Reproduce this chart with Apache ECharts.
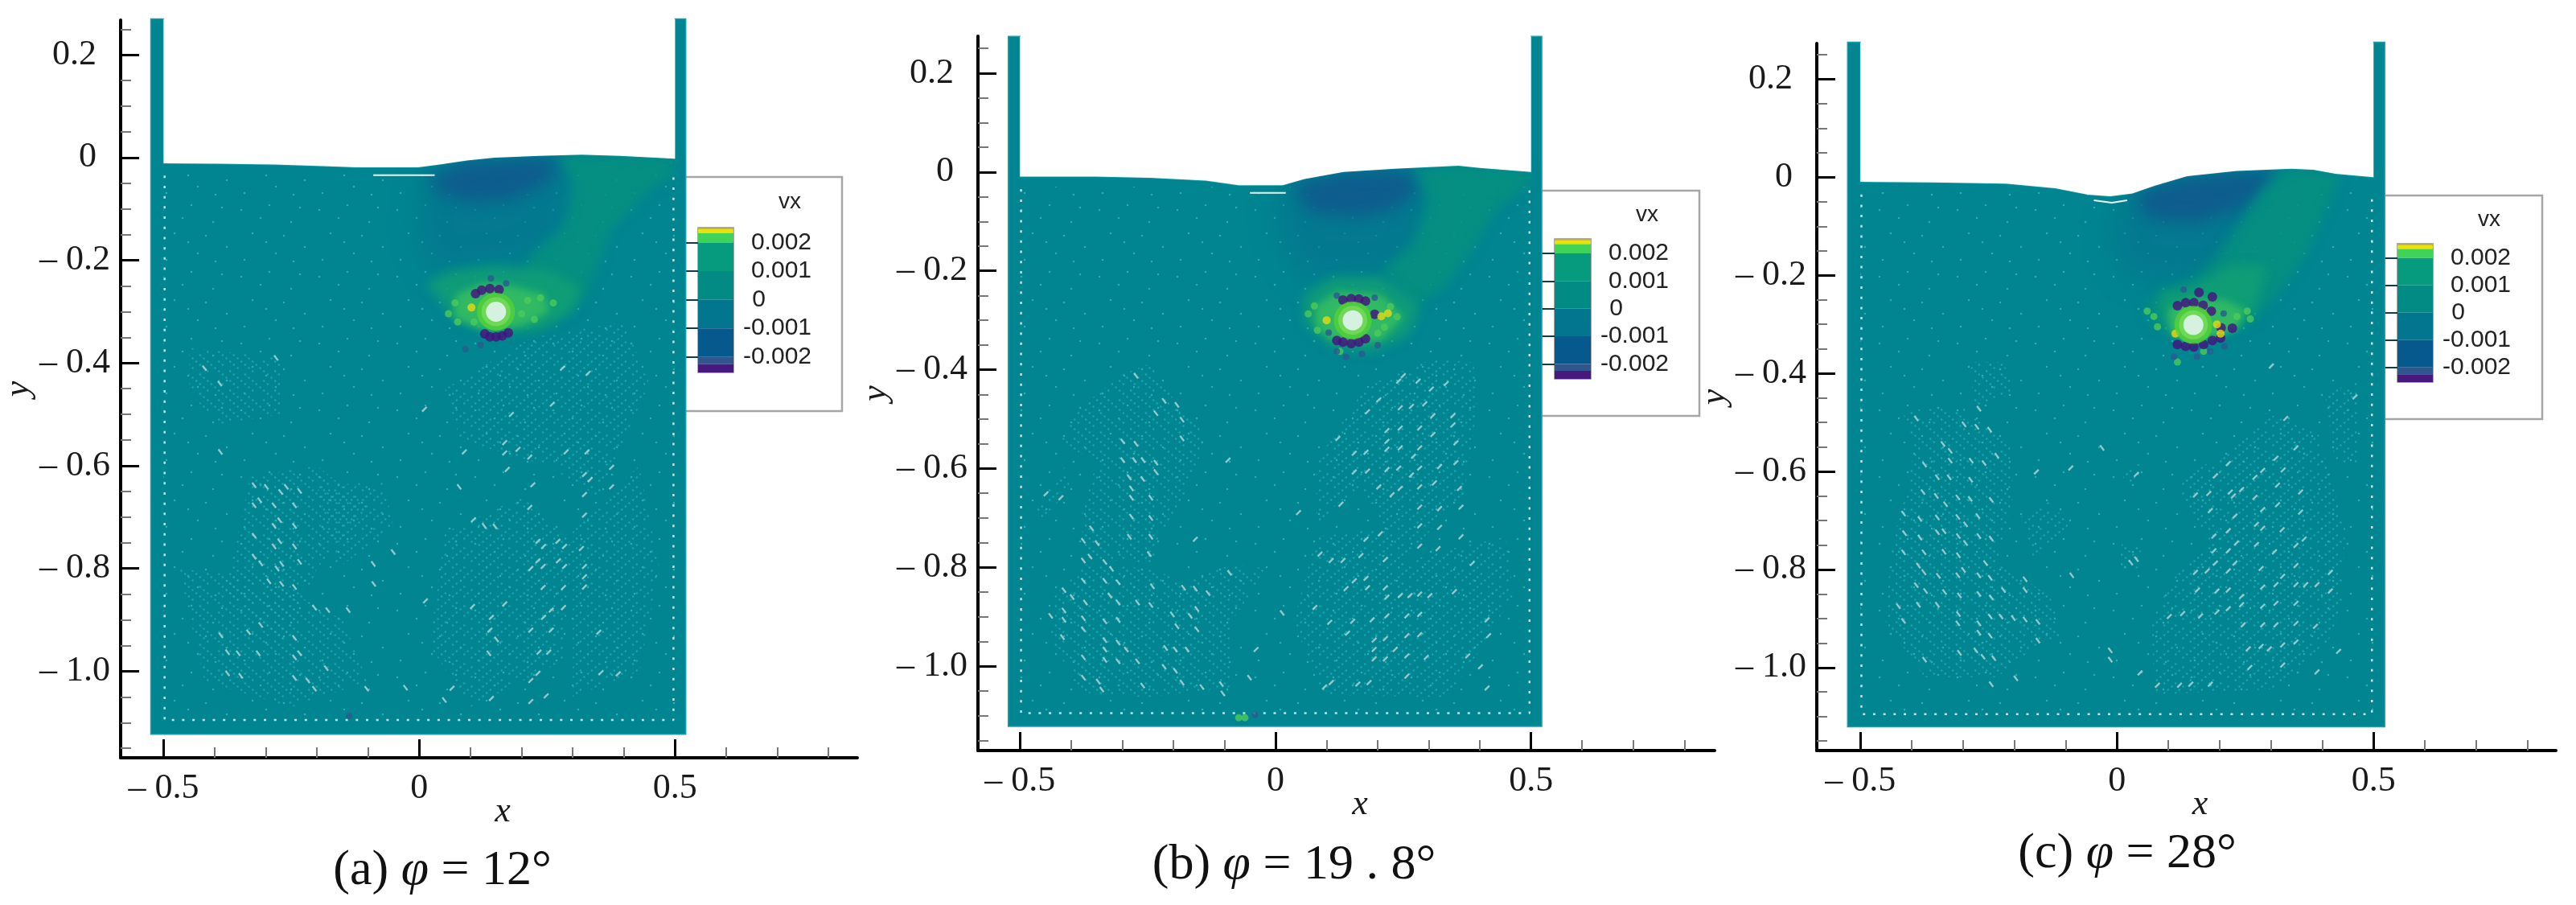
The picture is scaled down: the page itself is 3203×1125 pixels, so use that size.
<!DOCTYPE html>
<html>
<head>
<meta charset="utf-8">
<title>vx field</title>
<script src="https://cdn.jsdelivr.net/npm/echarts@6/dist/echarts.min.js"></script>
<style>
  html, body { margin: 0; padding: 0; background: #fff; }
  #main { width: 3203px; height: 1125px; }
</style>
</head>
<body>
<div id="main"></div>
<script>
// axis ticks
let xMajor = [-0.5, 0, 0.5];
let xMinor = [-0.4, -0.3, -0.2, -0.1, 0.1, 0.2, 0.3, 0.4, 0.6, 0.7, 0.8];
let yMajor = [-1, -0.8, -0.6, -0.4, -0.2, 0, 0.2];
let yMinor = [-1.15, -1.1, -1.05, -0.95, -0.9, -0.85, -0.75, -0.7, -0.65, -0.55, -0.5, -0.45, -0.35, -0.3, -0.25, -0.15, -0.1, -0.05, 0.05, 0.1, 0.15, 0.25];

// colour bar
let barTicks = [-0.002, -0.001, 0, 0.001, 0.002];
let barEdges = [0.00252, 0.00245, 0.00233, 0.002, 0.001, 0, -0.001, -0.002, -0.00225, -0.00254];
let barColors = ['#c8b90e', '#e8e10a', '#3fd35a', '#069b7f', '#028a85', '#03768f', '#05598d', '#31558f', '#47187e'];

// free surface, left wall to right wall
let surfaceA = [[-0.5, -0.011], [-0.389, -0.012], [-0.282, -0.0135], [-0.175, -0.017], [-0.121, -0.019], [-0.003, -0.019], [0.04, -0.0135], [0.093, -0.0056], [0.147, 0], [0.233, 0.0034], [0.318, 0.0056], [0.393, 0.0034], [0.5, -0.002]];
let surfaceB = [[-0.5, -0.0093], [-0.351, -0.0093], [-0.244, -0.0117], [-0.136, -0.0175], [-0.072, -0.0269], [0.014, -0.0269], [0.057, -0.014], [0.133, 0], [0.24, 0.007], [0.358, 0.0129], [0.4, 0.0082], [0.5, 0]];
let surfaceC = [[-0.5, -0.0094], [-0.355, -0.0106], [-0.216, -0.0129], [-0.12, -0.0224], [-0.056, -0.0353], [-0.013, -0.0388], [0.03, -0.0329], [0.073, -0.0176], [0.137, 0.0024], [0.233, 0.0129], [0.34, 0.0176], [0.383, 0.0153], [0.426, 0.0071], [0.5, 0]];

// white sliver under the trough
let sliverA = [[-0.09, -0.034], [0.03, -0.034]];
let sliverB = [[-0.05, -0.042], [0.02, -0.042]];
let sliverC = [[-0.045, -0.047], [-0.01, -0.052], [0.02, -0.047]];

// contour zones
let midA = [[0.029, -0.013], [0.265, 0.003], [0.302, -0.064], [0.286, -0.143], [0.211, -0.199], [0.029, -0.221], [-0.003, -0.143], [0.008, -0.064]];
let darkA = [[0.083, -0.008], [0.254, 0.002], [0.275, -0.019], [0.243, -0.053], [0.179, -0.081], [0.104, -0.087], [0.04, -0.07], [0.018, -0.042]];
let greenA = [[0.275, 0.003], [0.393, 0.003], [0.498, -0.003], [0.498, -0.03], [0.447, -0.064], [0.372, -0.143], [0.345, -0.221], [0.318, -0.278], [0.254, -0.328], [0.179, -0.339], [0.211, -0.199], [0.286, -0.131], [0.302, -0.053]];
let fanA = [[0.013, -0.244], [0.061, -0.221], [0.147, -0.21], [0.254, -0.221], [0.318, -0.255], [0.297, -0.3], [0.233, -0.334], [0.147, -0.343], [0.072, -0.317]];
let coreA = [[0.072, -0.266], [0.125, -0.244], [0.179, -0.249], [0.243, -0.266], [0.254, -0.3], [0.2, -0.328], [0.125, -0.336], [0.066, -0.311]];

let midB = [[0.019, -0.028], [0.132, 0], [0.277, 0.006], [0.304, -0.061], [0.282, -0.143], [0.25, -0.201], [0.057, -0.213], [0.014, -0.143], [0.003, -0.072]];
let darkB = [[0.035, -0.023], [0.132, 0], [0.25, 0.006], [0.283, -0.032], [0.24, -0.072], [0.164, -0.09], [0.078, -0.084], [0.046, -0.055]];
let greenB = [[0.277, 0.006], [0.358, 0.013], [0.4, 0.008], [0.497, 0], [0.497, -0.026], [0.433, -0.072], [0.379, -0.166], [0.325, -0.236], [0.272, -0.271], [0.207, -0.201], [0.272, -0.143], [0.299, -0.061]];
let fanB = [[0.057, -0.248], [0.111, -0.213], [0.207, -0.213], [0.282, -0.271], [0.261, -0.329], [0.186, -0.364], [0.111, -0.353], [0.057, -0.306]];
let coreB = [[0.078, -0.271], [0.121, -0.242], [0.207, -0.248], [0.25, -0.294], [0.207, -0.341], [0.111, -0.341], [0.078, -0.312]];

let midC = [[0.014, -0.036], [0.137, 0.002], [0.319, 0.016], [0.329, -0.027], [0.276, -0.109], [0.201, -0.215], [0.03, -0.204], [-0.013, -0.133], [-0.002, -0.074]];
let darkC = [[0.041, -0.029], [0.137, 0.002], [0.287, 0.014], [0.308, -0.006], [0.244, -0.062], [0.158, -0.092], [0.073, -0.086], [0.041, -0.062]];
let greenC = [[0.325, 0.014], [0.384, 0.014], [0.436, 0.003], [0.371, -0.152], [0.312, -0.24], [0.273, -0.284], [0.234, -0.311], [0.15, -0.33], [0.07, -0.3], [0.053, -0.273], [0.085, -0.229], [0.15, -0.207], [0.202, -0.152], [0.286, -0.021]];
let fanC = [[0.085, -0.24], [0.15, -0.225], [0.22, -0.18], [0.29, -0.18], [0.27, -0.27], [0.23, -0.3], [0.15, -0.325], [0.09, -0.3]];
let coreC = [[0.1, -0.27], [0.15, -0.25], [0.21, -0.25], [0.25, -0.27], [0.235, -0.31], [0.15, -0.34], [0.105, -0.32]];

// loosely packed patches
let looseBackA = [
  [[-0.45, -0.37], [-0.27, -0.39], [-0.27, -0.5], [-0.4, -0.52], [-0.45, -0.45]],
  [[-0.33, -0.62], [-0.2, -0.6], [-0.1, -0.68], [-0.2, -0.8], [-0.26, -0.95], [-0.38, -0.85]],
  [[-0.47, -0.8], [-0.3, -0.82], [-0.15, -0.9], [-0.1, -1.02], [-0.25, -1.07], [-0.42, -1.02]]
];
let looseFwdA = [
  [[-0.2, -0.64], [-0.07, -0.63], [-0.05, -0.72], [-0.16, -0.8]],
  [[0.22, -0.35], [0.4, -0.32], [0.45, -0.44], [0.35, -0.66], [0.25, -0.6], [0.08, -0.55], [0.05, -0.45]],
  [[0.05, -0.73], [0.2, -0.66], [0.3, -0.75], [0.28, -0.98], [0.1, -1.07], [0.02, -0.95]],
  [[0.3, -0.72], [0.43, -0.6], [0.47, -0.8], [0.43, -1], [0.3, -1.05]]
];
let looseBackB = [
  [[-0.401, -0.493], [-0.305, -0.412], [-0.241, -0.385], [-0.19, -0.477], [-0.132, -0.531], [-0.177, -0.651], [-0.215, -0.716], [-0.241, -0.792], [-0.369, -0.781], [-0.382, -0.705], [-0.35, -0.586], [-0.421, -0.548]],
  [[-0.433, -0.857], [-0.369, -0.792], [-0.241, -0.803], [-0.177, -0.83], [-0.08, -0.792], [-0.016, -0.803], [-0.087, -0.911], [-0.087, -1.042], [-0.254, -1.063], [-0.382, -1.053], [-0.44, -0.944]]
];
let looseFwdB = [
  [[0.177, -0.433], [0.305, -0.379], [0.388, -0.385], [0.395, -0.477], [0.369, -0.651], [0.273, -0.759], [0.241, -0.803], [0.209, -0.721], [0.17, -0.64], [0.119, -0.672], [0.08, -0.721], [0.08, -0.586]],
  [[0.08, -0.738], [0.209, -0.721], [0.241, -0.792], [0.356, -0.759], [0.452, -0.738], [0.465, -0.857], [0.401, -0.966], [0.337, -1.063], [0.093, -1.058], [0.035, -0.911]],
  [[-0.472, -0.683], [-0.414, -0.596], [-0.401, -0.64], [-0.459, -0.705]]
];
let looseBackC = [
  [[-0.285, -0.377], [-0.221, -0.377], [-0.2, -0.44], [-0.28, -0.47]],
  [[-0.419, -0.475], [-0.298, -0.47], [-0.208, -0.546], [-0.202, -0.65], [-0.234, -0.787], [-0.131, -0.853], [-0.106, -0.935], [-0.157, -0.957], [-0.234, -1.02], [-0.375, -1.02], [-0.451, -0.907], [-0.439, -0.743], [-0.419, -0.678], [-0.394, -0.552]],
  [[0.01, -0.743], [0.048, -0.754], [0.041, -0.798], [0.003, -0.798]]
];
let looseFwdC = [
  [[-0.189, -0.694], [-0.131, -0.661], [-0.093, -0.71], [-0.163, -0.776]],
  [[0.112, -0.623], [0.221, -0.557], [0.291, -0.481], [0.393, -0.524], [0.445, -0.716], [0.438, -0.88], [0.406, -0.962], [0.317, -1.044], [0.074, -1.055], [0.067, -0.907], [0.105, -0.825], [0.176, -0.743]],
  [[0.01, -0.601], [0.054, -0.579], [0.041, -0.617], [0.016, -0.634]],
  [[0.406, -0.442], [0.47, -0.415], [0.47, -0.59], [0.425, -0.579]]
];

// white streaks
let streakBackA = [[-0.389, -0.573], [-0.323, -0.638], [-0.299, -0.641], [-0.271, -0.651], [-0.26, -0.641], [-0.234, -0.649], [-0.312, -0.667], [-0.323, -0.677], [-0.284, -0.677], [-0.244, -0.677], [-0.273, -0.706], [-0.284, -0.717], [-0.244, -0.717], [-0.323, -0.736], [-0.273, -0.747], [-0.284, -0.757], [-0.244, -0.757], [-0.323, -0.777], [-0.31, -0.79], [-0.278, -0.8], [-0.269, -0.791], [-0.234, -0.787], [-0.294, -0.825], [-0.269, -0.83], [-0.244, -0.836], [-0.205, -0.876], [-0.179, -0.881], [-0.139, -0.881], [-0.31, -0.91], [-0.334, -0.924], [-0.388, -0.93], [-0.244, -0.935], [-0.375, -0.963], [-0.354, -0.965], [-0.315, -0.965], [-0.244, -0.973], [-0.234, -0.965], [-0.375, -1.004], [-0.349, -1.009], [-0.244, -1.013], [-0.218, -1.018], [-0.205, -1.034], [-0.182, -0.994], [-0.09, -0.791], [-0.089, -0.83], [-0.051, -0.768], [-0.027, -1.032], [-0.103, -1.034], [0.127, -0.717], [0.148, -0.718], [0.151, -0.938], [0.136, -0.965], [0.078, -0.641], [0.049, -1.056], [-0.42, -0.41], [-0.39, -0.44], [-0.28, -0.39]];
let streakFwdA = [[0.088, -0.573], [0.167, -0.555], [0.193, -0.568], [0.167, -0.575], [0.216, -0.583], [0.172, -0.607], [0.222, -0.637], [0.216, -0.681], [0.287, -0.573], [0.328, -0.573], [0.323, -0.617], [0.376, -0.603], [0.334, -0.627], [0.376, -0.641], [0.323, -0.656], [0.323, -0.696], [0.232, -0.747], [0.243, -0.757], [0.271, -0.747], [0.284, -0.757], [0.317, -0.761], [0.232, -0.785], [0.218, -0.8], [0.242, -0.796], [0.272, -0.785], [0.284, -0.796], [0.323, -0.796], [0.323, -0.816], [0.242, -0.837], [0.282, -0.837], [0.323, -0.836], [0.282, -0.876], [0.258, -0.881], [0.243, -0.895], [0.167, -0.869], [0.104, -0.874], [0.141, -0.895], [0.138, -0.92], [0.218, -0.92], [0.258, -0.92], [0.351, -0.924], [0.234, -0.963], [0.253, -0.963], [0.232, -1.004], [0.218, -1.018], [0.389, -1.005], [0.355, -1.003], [0.248, -1.048], [0.218, -1.059], [0.141, -1.053], [0.064, -1.033], [0.106, -0.705], [0.012, -0.863], [0.33, -0.42], [0.28, -0.41], [0.26, -0.48], [0.18, -0.5], [0.01, -0.49]];
let streakBackB = [[-0.218, -0.463], [-0.193, -0.471], [-0.234, -0.488], [-0.183, -0.501], [-0.273, -0.412], [-0.183, -0.539], [-0.299, -0.545], [-0.273, -0.55], [-0.299, -0.583], [-0.276, -0.583], [-0.259, -0.583], [-0.234, -0.588], [-0.234, -0.607], [-0.286, -0.618], [-0.26, -0.621], [-0.282, -0.64], [-0.244, -0.659], [-0.282, -0.659], [-0.244, -0.7], [-0.282, -0.697], [-0.36, -0.721], [-0.286, -0.738], [-0.244, -0.738], [-0.376, -0.746], [-0.349, -0.751], [-0.247, -0.773], [-0.363, -0.778], [-0.376, -0.786], [-0.334, -0.789], [-0.321, -0.803], [-0.376, -0.827], [-0.334, -0.827], [-0.308, -0.83], [-0.241, -0.838], [-0.18, -0.841], [-0.157, -0.843], [-0.132, -0.852], [-0.414, -0.846], [-0.398, -0.86], [-0.372, -0.871], [-0.324, -0.857], [-0.308, -0.871], [-0.27, -0.871], [-0.244, -0.876], [-0.414, -0.887], [-0.44, -0.898], [-0.414, -0.906], [-0.376, -0.903], [-0.334, -0.909], [-0.308, -0.906], [-0.202, -0.895], [-0.167, -0.898], [-0.154, -0.884], [-0.193, -0.919], [-0.154, -0.925], [-0.376, -0.925], [-0.417, -0.941], [-0.334, -0.947], [-0.308, -0.952], [-0.292, -0.966], [-0.334, -0.966], [-0.215, -0.963], [-0.196, -0.966], [-0.173, -0.966], [-0.376, -0.982], [-0.334, -0.987], [-0.308, -0.99], [-0.27, -0.99], [-0.218, -1.001], [-0.196, -1.009], [-0.376, -1.023], [-0.347, -1.031], [-0.183, -1.033], [-0.144, -1.042], [-0.106, -1.036], [-0.26, -1.039], [-0.34, -1.047], [-0.103, -1.055], [-0.051, -1.023], [0.013, -0.892], [-0.09, -0.811]];
let streakFwdB = [[0.25, -0.412], [0.241, -0.423], [0.279, -0.423], [0.334, -0.428], [0.305, -0.439], [0.202, -0.461], [0.244, -0.477], [0.266, -0.474], [0.292, -0.469], [0.18, -0.485], [0.308, -0.493], [0.347, -0.493], [0.244, -0.518], [0.282, -0.518], [0.218, -0.523], [0.347, -0.512], [0.308, -0.531], [0.218, -0.545], [0.122, -0.539], [0.177, -0.567], [0.154, -0.569], [0.244, -0.558], [0.218, -0.561], [0.282, -0.558], [0.27, -0.575], [0.353, -0.548], [0.321, -0.596], [0.218, -0.602], [0.241, -0.599], [0.18, -0.605], [0.282, -0.599], [0.154, -0.607], [0.266, -0.613], [0.353, -0.588], [0.311, -0.629], [0.36, -0.64], [0.244, -0.64], [0.282, -0.637], [0.202, -0.637], [0.228, -0.653], [0.128, -0.672], [0.282, -0.678], [0.321, -0.681], [0.363, -0.678], [0.321, -0.719], [0.282, -0.716], [0.177, -0.743], [0.205, -0.732], [0.282, -0.757], [0.318, -0.762], [0.363, -0.738], [0.087, -0.773], [0.109, -0.786], [0.167, -0.776], [0.215, -0.784], [0.132, -0.786], [0.385, -0.792], [0.177, -0.822], [0.154, -0.827], [0.215, -0.841], [0.138, -0.843], [0.18, -0.841], [0.244, -0.857], [0.263, -0.857], [0.302, -0.857], [0.282, -0.854], [0.35, -0.849], [0.218, -0.86], [0.077, -0.881], [0.106, -0.911], [0.151, -0.909], [0.189, -0.906], [0.218, -0.898], [0.257, -0.898], [0.282, -0.895], [0.257, -0.938], [0.215, -0.944], [0.282, -0.936], [0.193, -0.947], [0.414, -0.906], [0.417, -0.938], [0.141, -0.933], [0.234, -0.966], [0.193, -0.966], [0.257, -0.979], [0.295, -0.982], [0.193, -0.985], [0.215, -0.985], [0.376, -0.979], [0.096, -1.042], [0.161, -1.036], [0.183, -1.033], [0.257, -1.02], [0.414, -1.044], [0.401, -1.001], [-0.038, -0.966], [0.109, -1.033], [-0.42, -0.659], [-0.449, -0.651], [-0.157, -0.743], [0.045, -0.689], [-0.093, -0.583]];
let streakBackC = [[-0.391, -0.492], [-0.269, -0.472], [-0.298, -0.504], [-0.273, -0.509], [-0.248, -0.515], [-0.339, -0.544], [-0.325, -0.558], [-0.234, -0.568], [-0.325, -0.578], [-0.284, -0.578], [-0.259, -0.583], [-0.375, -0.586], [-0.35, -0.612], [-0.327, -0.612], [-0.285, -0.617], [-0.378, -0.642], [-0.352, -0.65], [-0.334, -0.667], [-0.31, -0.653], [-0.286, -0.656], [-0.245, -0.658], [-0.416, -0.686], [-0.384, -0.697], [-0.35, -0.694], [-0.31, -0.693], [-0.271, -0.691], [-0.295, -0.708], [-0.414, -0.726], [-0.384, -0.735], [-0.35, -0.724], [-0.337, -0.722], [-0.309, -0.732], [-0.269, -0.732], [-0.245, -0.737], [-0.295, -0.746], [-0.416, -0.765], [-0.376, -0.765], [-0.337, -0.764], [-0.309, -0.771], [-0.256, -0.787], [-0.387, -0.792], [-0.376, -0.806], [-0.348, -0.813], [-0.31, -0.812], [-0.269, -0.812], [-0.247, -0.817], [-0.299, -0.801], [-0.391, -0.832], [-0.373, -0.844], [-0.336, -0.846], [-0.307, -0.853], [-0.269, -0.85], [-0.245, -0.857], [-0.221, -0.842], [-0.179, -0.842], [-0.179, -0.82], [-0.088, -0.812], [-0.387, -0.872], [-0.35, -0.872], [-0.309, -0.891], [-0.247, -0.896], [-0.226, -0.896], [-0.202, -0.899], [-0.179, -0.902], [-0.154, -0.907], [-0.31, -0.91], [-0.269, -0.91], [-0.416, -0.905], [-0.269, -0.929], [-0.247, -0.935], [-0.154, -0.945], [-0.275, -0.965], [-0.261, -0.978], [-0.24, -0.981], [-0.375, -0.984], [-0.197, -1.022], [-0.245, -1.034], [-0.013, -0.965], [-0.013, -0.984], [-0.029, -0.552], [0.027, -0.786], [0.038, -0.779], [-0.307, -0.97], [-0.426, -0.875]];
let streakFwdC = [[0.301, -0.385], [0.464, -0.448], [0.349, -0.552], [0.31, -0.573], [0.217, -0.584], [0.284, -0.598], [0.324, -0.597], [0.269, -0.612], [0.192, -0.609], [0.313, -0.628], [0.243, -0.637], [0.221, -0.642], [0.358, -0.642], [0.179, -0.645], [0.153, -0.648], [0.227, -0.65], [0.269, -0.653], [0.182, -0.68], [0.284, -0.678], [0.313, -0.668], [0.23, -0.691], [0.358, -0.683], [0.272, -0.708], [0.322, -0.719], [0.217, -0.721], [0.189, -0.732], [0.284, -0.716], [0.233, -0.746], [0.272, -0.749], [0.365, -0.738], [0.217, -0.762], [0.189, -0.762], [0.349, -0.751], [0.307, -0.764], [0.281, -0.798], [0.23, -0.787], [0.192, -0.787], [0.217, -0.803], [0.176, -0.803], [0.153, -0.806], [0.349, -0.792], [0.323, -0.814], [0.416, -0.806], [0.157, -0.842], [0.195, -0.844], [0.217, -0.842], [0.243, -0.855], [0.284, -0.836], [0.31, -0.831], [0.349, -0.831], [0.368, -0.831], [0.39, -0.831], [0.416, -0.844], [0.102, -0.896], [0.128, -0.89], [0.163, -0.895], [0.195, -0.887], [0.217, -0.88], [0.243, -0.872], [0.284, -0.875], [0.31, -0.869], [0.349, -0.869], [0.246, -0.913], [0.284, -0.913], [0.31, -0.913], [0.349, -0.91], [0.387, -0.916], [0.256, -0.962], [0.281, -0.957], [0.297, -0.962], [0.323, -0.954], [0.349, -0.948], [0.432, -0.967], [0.259, -1], [0.323, -0.995], [0.39, -1.009], [0.079, -1.036], [0.122, -1.036], [0.144, -1.034], [0.182, -1.034], [0.045, -1.011], [0.038, -0.606], [-0.09, -0.593], [-0.157, -0.601], [0.329, -0.492]];

// particles around the cylinder
let purpleA = [[0.11, -0.265], [0.122, -0.258], [0.138, -0.255], [0.156, -0.257], [0.128, -0.343], [0.138, -0.349], [0.15, -0.349], [0.162, -0.347], [0.174, -0.341]];
let yellowA = [[0.102, -0.292]];
let blueA = [[0.09, -0.373], [0.12, -0.365], [0.17, -0.245], [0.14, -0.235], [-0.137, -1.087]];
let limeA = [[0.057, -0.304], [0.075, -0.32], [0.107, -0.32], [0.212, -0.278], [0.237, -0.273], [0.262, -0.283], [0.07, -0.283], [0.225, -0.315], [0.2, -0.304]];
let purpleB = [[0.132, -0.259], [0.148, -0.256], [0.163, -0.257], [0.176, -0.261], [0.12, -0.341], [0.132, -0.344], [0.148, -0.347], [0.163, -0.344], [0.176, -0.337], [0.194, -0.288]];
let yellowB = [[0.207, -0.292], [0.22, -0.286], [0.1, -0.3]];
let blueB = [[0.194, -0.254], [0.12, -0.363], [0.138, -0.374], [0.169, -0.368], [0.104, -0.325], [0.2, -0.35], [0.12, -0.25], [-0.04, -1.098]];
let limeB = [[0.076, -0.271], [0.064, -0.287], [0.213, -0.314], [0.238, -0.293], [0.225, -0.272], [0.126, -0.363], [0.082, -0.32], [0.2, -0.326], [-0.072, -1.104], [-0.06, -1.104]];
let purpleC = [[0.118, -0.262], [0.134, -0.256], [0.15, -0.256], [0.168, -0.261], [0.184, -0.273], [0.186, -0.244], [0.16, -0.235], [0.118, -0.341], [0.134, -0.345], [0.15, -0.346], [0.169, -0.341], [0.186, -0.333], [0.203, -0.307], [0.225, -0.308], [0.202, -0.328]];
let yellowC = [[0.195, -0.3], [0.202, -0.319], [0.114, -0.319]];
let blueC = [[0.111, -0.366], [0.156, -0.366], [0.182, -0.355], [0.208, -0.278], [0.13, -0.229], [0.21, -0.345]];
let limeC = [[0.072, -0.284], [0.059, -0.273], [0.234, -0.284], [0.254, -0.273], [0.26, -0.289], [0.079, -0.305], [0.169, -0.355], [0.118, -0.377]];

let ringA = [[0.15, -0.3]];
let ringB = [[0.151, -0.3]];
let ringC = [[0.149, -0.301]];

let captions = ['(a) {i|φ} = 12°', '(b) {i|φ} = 19 . 8°', '(c) {i|φ} = 28°'];

const serif = '"Liberation Serif", serif';
const sans = '"Liberation Sans", Arial, sans-serif';
const bodyColor = '#008591';

// dot textures for the loose patches, some dots left out so the rows look uneven
function latticeTile(flip) {
  let c = document.createElement('canvas');
  c.width = 56;
  c.height = 48;
  let ctx = c.getContext('2d');
  ctx.fillStyle = 'rgba(30,172,184,0.85)';
  for (let i = 0; i < 4; i++) {
    for (let j = 0; j < 4; j++) {
      [[1.5, 1.5], [6.2, 5.5], [10.8, 9.5]].forEach(function (d, k) {
        if ((i * 5 + j * 3 + k) % 6 === 0) return;
        let x = i * 14 + (flip ? 14 - d[0] : d[0]);
        ctx.beginPath();
        ctx.arc(x, j * 12 + d[1], 1.25, 0, Math.PI * 2);
        ctx.fill();
      });
    }
  }
  return c;
}
function sparseTile() {
  let c = document.createElement('canvas');
  c.width = 97;
  c.height = 83;
  let ctx = c.getContext('2d');
  ctx.fillStyle = 'rgba(50,185,195,0.8)';
  [[9, 12], [44, 6], [71, 27], [23, 41], [88, 58], [52, 66], [13, 74], [62, 44], [33, 22], [82, 9], [40, 52], [74, 76]].forEach(function (d) {
    ctx.beginPath();
    ctx.arc(d[0], d[1], 1.3, 0, Math.PI * 2);
    ctx.fill();
  });
  return c;
}
const tileBack = latticeTile(false);
const tileFwd = latticeTile(true);
const tileSparse = sparseTile();

const panels = [
  { left: 149, top: 25, width: 917, height: 917, xMin: -0.584, xMax: 0.8565, yMin: -1.1685, yMax: 0.2677,
    wall: [-0.525, 0.521, 0.27, -1.1226], surface: surfaceA, sliver: sliverA,
    zones: [midA, darkA, greenA, fanA, coreA], back: looseBackA, fwd: looseFwdA,
    streakBack: streakBackA, streakFwd: streakFwdA, purple: purpleA, yellow: yellowA, blue: blueA, lime: limeA, ring: ringA,
    box: [848, 220, 199, 291], bar: [868, 283, 44, 180], vx: [982, 251], cap: [550, 1083] },
  { left: 1216, top: 45, width: 916, height: 888, xMin: -0.5823, xMax: 0.8593, yMin: -1.1705, yMax: 0.2748,
    wall: [-0.523, 0.521, 0.2745, -1.1215], surface: surfaceB, sliver: sliverB,
    zones: [midB, darkB, greenB, fanB, coreB], back: looseBackB, fwd: looseFwdB,
    streakBack: streakBackB, streakFwd: streakFwdB, purple: purpleB, yellow: yellowB, blue: blueB, lime: limeB, ring: ringB,
    box: [1912, 237, 201, 280], bar: [1933, 297, 45, 174], vx: [2048, 267], cap: [1609, 1076] },
  { left: 2259, top: 54, width: 919, height: 879, xMin: -0.585, xMax: 0.8556, yMin: -1.1694, yMax: 0.273,
    wall: [-0.525, 0.522, 0.2753, -1.121], surface: surfaceC, sliver: sliverC,
    zones: [midC, darkC, greenC, fanC, coreC], back: looseBackC, fwd: looseFwdC,
    streakBack: streakBackC, streakFwd: streakFwdC, purple: purpleC, yellow: yellowC, blue: blueC, lime: limeC, ring: ringC,
    box: [2960, 243, 201, 278], bar: [2981, 303, 44, 172], vx: [3095, 273], cap: [2645, 1062] }
];
const zoneColors = ['#06728f', '#0f5a8d', '#06907f', '#12a074', '#35bd62'];
const zoneOpacity = [0.6, 0.9, 0.85, 0.85, 0.9];
const zoneBlur = [34, 20, 14, 14, 10];

function polygonSeries(axisIdx, list, style, z) {
  return {
    type: 'custom',
    xAxisIndex: axisIdx,
    yAxisIndex: axisIdx,
    clip: false,
    silent: true,
    z: z,
    data: list.map(function (p, i) { return [i, 0]; }),
    renderItem: function (params, api) {
      let pts = list[params.dataIndex].map(function (p) { return api.coord(p); });
      return { type: 'polygon', shape: { points: pts }, style: style };
    }
  };
}

// only the shadow lands on the canvas, which gives a soft blurred zone
const FAR = 6000;
function softZoneSeries(axisIdx, zone, color, opacity, blur, z) {
  return {
    type: 'custom',
    xAxisIndex: axisIdx,
    yAxisIndex: axisIdx,
    clip: false,
    silent: true,
    z: z,
    data: [[0, 0]],
    renderItem: function (params, api) {
      let pts = zone.map(function (p) {
        let c = api.coord(p);
        return [c[0] - FAR, c[1]];
      });
      return {
        type: 'polygon',
        shape: { points: pts },
        style: { fill: color, opacity: opacity, shadowColor: color, shadowBlur: blur, shadowOffsetX: FAR }
      };
    }
  };
}

function pointSeries(axisIdx, data, symbol, size, color, rotate, z, extra) {
  return Object.assign({
    type: 'scatter',
    xAxisIndex: axisIdx,
    yAxisIndex: axisIdx,
    clip: false,
    silent: true,
    z: z,
    symbol: symbol,
    symbolSize: size,
    symbolRotate: rotate,
    itemStyle: { color: color },
    data: data
  }, extra || {});
}

function yLabel(v) {
  if (v === 0) return '{p|0}';
  if (v < 0) return '– ' + Math.abs(v).toFixed(1);
  return '{p|' + v.toFixed(1) + '}';
}
function xLabel(v) {
  if (v === 0) return '0';
  return v < 0 ? '– ' + Math.abs(v).toFixed(1) : v.toFixed(1);
}

let grids = [], xAxes = [], yAxes = [], series = [], titles = [], graphics = [];

panels.forEach(function (p, i) {
  grids.push({ left: p.left, top: p.top, width: p.width, height: p.height });
  const labelStyle = { fontFamily: serif, fontSize: 44, color: '#1a1a1a' };

  xAxes.push({
    type: 'value', gridIndex: i, position: 'bottom', min: p.xMin, max: p.xMax,
    name: 'x', nameLocation: 'middle', nameGap: 45, nameMoveOverlap: false,
    nameTextStyle: { fontFamily: serif, fontStyle: 'italic', fontSize: 44, color: '#1a1a1a', padding: [0, 0, 0, 34] },
    axisLine: { onZero: false, lineStyle: { color: '#000', width: 4 } },
    axisTick: { inside: true, length: 23, lineStyle: { color: '#000', width: 3 }, customValues: xMajor },
    axisLabel: Object.assign({ customValues: xMajor, formatter: xLabel, margin: 16 }, labelStyle),
    splitLine: { show: false }
  });
  xAxes.push({
    type: 'value', gridIndex: i, position: 'bottom', min: p.xMin, max: p.xMax,
    axisLine: { show: false, onZero: false },
    axisTick: { inside: true, length: 13, lineStyle: { color: '#777', width: 2 }, customValues: xMinor },
    axisLabel: { show: false },
    splitLine: { show: false }
  });
  yAxes.push({
    type: 'value', gridIndex: i, position: 'left', min: p.yMin, max: p.yMax,
    name: 'y', nameLocation: 'middle', nameGap: 105, nameRotate: 90, nameMoveOverlap: false,
    nameTextStyle: { fontFamily: serif, fontStyle: 'italic', fontSize: 44, color: '#1a1a1a' },
    axisLine: { onZero: false, lineStyle: { color: '#000', width: 4 } },
    axisTick: { inside: true, length: 23, lineStyle: { color: '#000', width: 3 }, customValues: yMajor },
    axisLabel: Object.assign({ customValues: yMajor, formatter: yLabel, margin: 13,
      rich: { p: Object.assign({ padding: [0, 17, 0, 0] }, labelStyle) } }, labelStyle),
    splitLine: { show: false }
  });
  yAxes.push({
    type: 'value', gridIndex: i, position: 'left', min: p.yMin, max: p.yMax,
    axisLine: { show: false, onZero: false },
    axisTick: { inside: true, length: 13, lineStyle: { color: '#777', width: 2 }, customValues: yMinor },
    axisLabel: { show: false },
    splitLine: { show: false }
  });

  const a = i * 2;
  const w = p.wall;
  // tank walls and fluid body share one outline
  let outline = [[w[0], w[2]], [-0.5, w[2]]].concat(p.surface, [[0.5, w[2]], [w[1], w[2]], [w[1], w[3]], [w[0], w[3]]]);
  series.push(polygonSeries(a, [outline], { fill: bodyColor, stroke: '#16a0aa', lineWidth: 1.5 }, 2));
  let inner = [[-0.5, -0.03], [-0.5, -1.09], [0.5, -1.09], [0.5, -0.03]];
  series.push(polygonSeries(a, [inner], { fill: { image: tileSparse, repeat: 'repeat' } }, 3));
  series.push(polygonSeries(a, p.back, { fill: { image: tileBack, repeat: 'repeat' } }, 3));
  series.push(polygonSeries(a, p.fwd, { fill: { image: tileFwd, repeat: 'repeat' } }, 3));

  p.zones.forEach(function (zone, k) {
    series.push(softZoneSeries(a, zone, zoneColors[k], zoneOpacity[k], zoneBlur[k], 4));
  });
  // zone blur must not spill above the free surface
  let air = p.surface.concat([[0.5, w[2]], [-0.5, w[2]]]);
  series.push(polygonSeries(a, [air], { fill: '#fff' }, 5));

  // dotted interface between wall and fluid
  series.push({
    type: 'line', xAxisIndex: a, yAxisIndex: a, clip: false, silent: true, z: 5, showSymbol: false,
    lineStyle: { color: '#bfe3e5', width: 2.5, type: [3, 9.7] },
    data: [[-0.498, -0.035], [-0.498, -1.095], [0.497, -1.095], [0.497, -0.035]]
  });
  series.push({
    type: 'line', xAxisIndex: a, yAxisIndex: a, clip: false, silent: true, z: 5, showSymbol: false,
    lineStyle: { color: '#eef8f8', width: 2 }, data: p.sliver
  });

  series.push(pointSeries(a, p.streakBack, 'rect', [2.4, 8], '#b9d8da', 37, 6));
  series.push(pointSeries(a, p.streakFwd, 'rect', [2.4, 8], '#b9d8da', -45, 6));
  series.push(pointSeries(a, p.lime, 'circle', 9, '#4cc95a', 0, 7));
  series.push(pointSeries(a, p.blue, 'circle', 8, '#2b5a8f', 0, 7));
  series.push(pointSeries(a, p.purple, 'circle', 12, '#45107e', 0, 7));
  series.push(pointSeries(a, p.yellow, 'circle', 10, '#e8da10', 0, 7));
  series.push(pointSeries(a, p.ring, 'circle', 36, '#ffffff', 0, 8, {
    itemStyle: { color: '#ffffff', borderColor: '#55d235', borderWidth: 11 }
  }));

  graphics.push({
    type: 'rect', z: -1, silent: true,
    shape: { x: p.box[0], y: p.box[1], width: p.box[2], height: p.box[3] },
    style: { fill: '#fff', stroke: '#a6a6a6', lineWidth: 2.5 }
  });
  titles.push({
    text: 'vx', left: p.vx[0], top: p.vx[1], textAlign: 'center', textVerticalAlign: 'middle', padding: 0,
    textStyle: { fontFamily: sans, fontSize: 28, fontWeight: 'normal', color: '#222' }
  });
  titles.push({
    text: captions[i], left: p.cap[0], top: p.cap[1], textAlign: 'center', textVerticalAlign: 'middle', padding: 0,
    textStyle: {
      fontFamily: serif, fontSize: 62, fontWeight: 'normal', color: '#111',
      rich: { i: { fontFamily: serif, fontStyle: 'italic', fontSize: 62, color: '#111' } }
    }
  });
});

// colour bars come after the panels so their axis indices are 6, 7, 8
panels.forEach(function (p, i) {
  const g = 3 + i;
  grids.push({ left: p.bar[0], top: p.bar[1], width: p.bar[2], height: p.bar[3], show: true, borderColor: '#8c8c8c', borderWidth: 1.5, backgroundColor: 'transparent' });
  xAxes.push({ type: 'value', gridIndex: g, min: 0, max: 1, show: false });
  yAxes.push({
    type: 'value', gridIndex: g, position: 'right', min: barEdges[barEdges.length - 1], max: barEdges[0],
    axisLine: { show: false },
    axisTick: { inside: true, length: p.bar[2], lineStyle: { color: '#0f3d4f', width: 2 }, customValues: barTicks },
    axisLabel: {
      customValues: barTicks, align: 'right', margin: 97, fontFamily: sans, fontSize: 30, color: '#222',
      formatter: function (v) { return v === 0 ? '{z|0}' : v.toFixed(3); },
      rich: { z: { fontFamily: sans, fontSize: 30, color: '#222', padding: [0, 57, 0, 0] } }
    },
    splitLine: { show: false }
  });
  series.push({
    type: 'custom', xAxisIndex: 6 + i, yAxisIndex: 6 + i, silent: true, clip: false, z: 1,
    data: barColors.map(function (c, k) { return [k, 0]; }),
    renderItem: function (params, api) {
      let k = params.dataIndex;
      let a = api.coord([0, barEdges[k]]);
      let b = api.coord([1, barEdges[k + 1]]);
      return { type: 'rect', shape: { x: a[0], y: a[1], width: b[0] - a[0], height: b[1] - a[1] }, style: { fill: barColors[k] } };
    }
  });
});

let chart = echarts.init(document.getElementById('main'));
chart.setOption({
  animation: false,
  backgroundColor: '#fff',
  title: titles,
  grid: grids,
  xAxis: xAxes,
  yAxis: yAxes,
  graphic: graphics,
  series: series
});
</script>
</body>
</html>
